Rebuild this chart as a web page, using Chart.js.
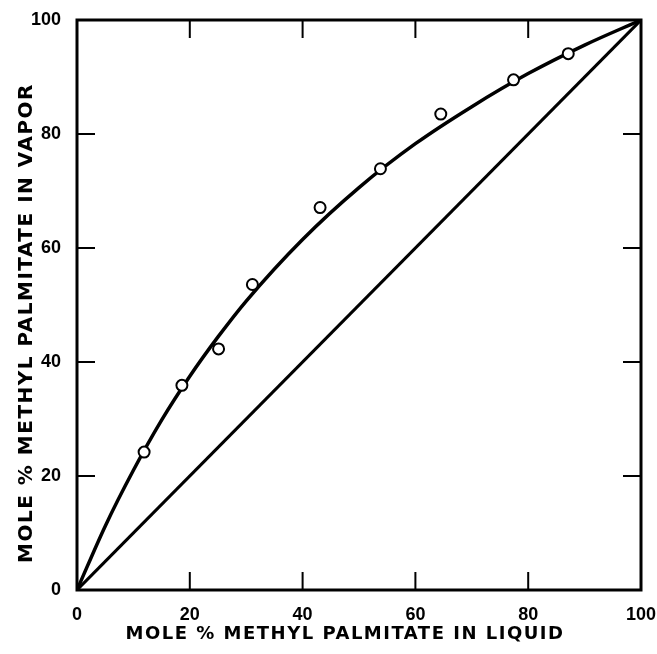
<!DOCTYPE html>
<html>
<head>
<meta charset="utf-8">
<script src="https://cdn.jsdelivr.net/npm/chart.js@4"></script>
<style>
  html, body { margin: 0; padding: 0; background: #fff; }
  #wrap { width: 657px; height: 654px; }
</style>
</head>
<body>
<div id="wrap"><canvas id="myChart"></canvas></div>
<script>
// measured points (mole % in liquid vs vapor)
const liquidPts = [11.9, 18.6, 25.1, 31.1, 43.1, 53.8, 64.5, 77.4, 87.1];
const vaporPts = [24.2, 35.9, 42.3, 53.6, 67.1, 73.9, 83.5, 89.5, 94.1];

// smooth equilibrium curve
const curveX = [0, 5, 10, 15, 20, 25, 30, 40, 50, 60, 70, 80, 90, 100];
const curveY = [0, 11.2, 21, 29.8, 37.5, 44.4, 50.7, 61.5, 70.6, 78.3, 84.8, 90.6, 95.6, 100];

// 45 degree line
const diagX = [0, 100];
const diagY = [0, 100];

const tickValues = [0, 20, 40, 60, 80, 100];
const xTitle = 'MOLE % METHYL PALMITATE IN LIQUID';
const yTitle = 'MOLE % METHYL PALMITATE IN VAPOR';

const toXY = (xs, ys) => xs.map((x, i) => ({ x: x, y: ys[i] }));

// frame, inner tick marks and spaced axis titles
const framePlugin = {
    id: 'frame',
    afterDatasetsDraw(chart) {
        const { ctx, chartArea: a, scales } = chart;
        ctx.save();
        ctx.strokeStyle = '#000';
        ctx.lineWidth = 3;
        ctx.strokeRect(a.left, a.top, a.right - a.left, a.bottom - a.top);
        ctx.lineWidth = 2;
        const len = 18;
        tickValues.slice(1, -1).forEach(v => {
            const px = scales.x.getPixelForValue(v);
            const py = scales.y.getPixelForValue(v);
            ctx.beginPath();
            ctx.moveTo(px, a.bottom); ctx.lineTo(px, a.bottom - len);
            ctx.moveTo(px, a.top); ctx.lineTo(px, a.top + len);
            ctx.moveTo(a.left, py); ctx.lineTo(a.left + len, py);
            ctx.moveTo(a.right, py); ctx.lineTo(a.right - len, py);
            ctx.stroke();
        });
        ctx.restore();
    },
    afterDraw(chart) {
        const { ctx, chartArea: a } = chart;
        ctx.save();
        ctx.fillStyle = '#000';
        ctx.textAlign = 'center';
        ctx.textBaseline = 'middle';
        ctx.letterSpacing = '1.5px';
        ctx.font = 'bold 18px "DejaVu Sans", sans-serif';
        ctx.fillText(xTitle, (a.left + a.right) / 2 - 14, 634);
        ctx.translate(27, (a.top + a.bottom) / 2 + 18);
        ctx.rotate(-Math.PI / 2);
        ctx.font = 'bold 20px "DejaVu Sans", sans-serif';
        ctx.fillText(yTitle, 0, 0);
        ctx.restore();
    }
};

const tickFont = { family: '"Liberation Sans Narrow", "Liberation Sans", sans-serif', size: 18, weight: 'bold' };

var ctx = document.getElementById('myChart');

var myChart = new Chart(ctx, { // eslint-disable-line
    type: 'scatter',
    data: {
        datasets: [
            {
                label: 'measured',
                data: toXY(liquidPts, vaporPts),
                pointStyle: 'circle',
                pointRadius: 5.5,
                pointBackgroundColor: '#fff',
                pointBorderColor: '#000',
                pointBorderWidth: 2,
                showLine: false,
                order: 0
            },
            {
                label: 'curve',
                data: toXY(curveX, curveY),
                showLine: true,
                borderColor: '#000',
                borderWidth: 3.5,
                pointRadius: 0,
                cubicInterpolationMode: 'monotone',
                order: 1
            },
            {
                label: 'diagonal',
                data: toXY(diagX, diagY),
                showLine: true,
                borderColor: '#000',
                borderWidth: 3,
                pointRadius: 0,
                order: 2
            }
        ]
    },
    options: {
        responsive: true,
        maintainAspectRatio: false,
        animation: false,
        layout: { padding: { top: 20, right: 16, left: 0, bottom: 0 } },
        plugins: {
            legend: { display: false },
            tooltip: { enabled: false }
        },
        scales: {
            x: {
                type: 'linear',
                min: 0,
                max: 100,
                afterFit(scale) {
                    scale.height = 64;
                    scale.paddingLeft = 0;
                    scale.paddingRight = 0;
                },
                grid: { display: false, drawTicks: false },
                border: { display: false },
                ticks: { stepSize: 20, color: '#000', font: tickFont, padding: 14, maxRotation: 0 }
            },
            y: {
                type: 'linear',
                min: 0,
                max: 100,
                afterFit(scale) {
                    scale.width = 77;
                    scale.paddingTop = 0;
                    scale.paddingBottom = 0;
                },
                grid: { display: false, drawTicks: false },
                border: { display: false },
                ticks: { stepSize: 20, color: '#000', font: tickFont, padding: 16 }
            }
        }
    },
    plugins: [framePlugin]
});
</script>
</body>
</html>
